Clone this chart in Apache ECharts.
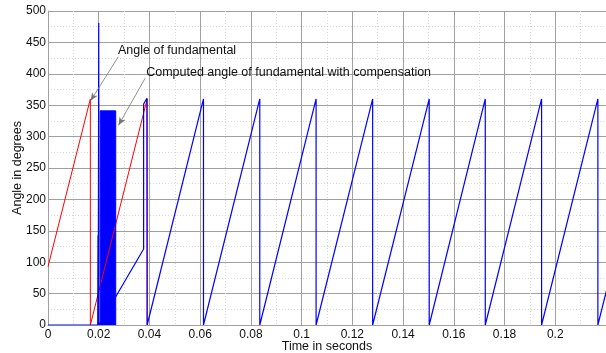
<!DOCTYPE html>
<html>
<head>
<meta charset="utf-8">
<script src="https://cdn.jsdelivr.net/npm/echarts@6/dist/echarts.min.js"></script>
<style>
  html, body { margin: 0; padding: 0; background: #fff; }
  #chart { width: 606px; height: 353px; }
</style>
</head>
<body>
<div id="chart"></div>
<script>
// Angle of the fundamental (red) and computed angle with compensation (blue)
const redTime = [0, 0.0167, 0.0167, 0.0172, 0.0391, 0.0391];
const redDeg = [93, 360, 0, 0, 360, 0];

const blueTime = [0, 0.0196, 0.0197, 0.0198, 0.0200, 0.0201, 0.0205, 0.0267, 0.0377, 0.0377, 0.0390, 0.0391,
  0.0613, 0.0613, 0.0835, 0.0835, 0.1057, 0.1057, 0.1280, 0.1280, 0.1503, 0.1503,
  0.1724, 0.1724, 0.1946, 0.1946, 0.2168, 0.2168, 0.2390];
const blueDeg = [0, 0, 143, 0, 481, 0, 0, 45, 121, 352, 361, 0,
  360, 0, 360, 0, 360, 0, 360, 0, 360, 0,
  360, 0, 360, 0, 360, 0, 360];

// fast oscillation burst right after start-up (fills solid)
const burstTime = [0.0206, 0.0206, 0.0267, 0.0267];
const burstDeg = [0, 341, 341, 0];

const yTicks = [0, 50, 100, 150, 200, 250, 300, 350, 400, 450, 500];
const xTicks = [0, 0.02, 0.04, 0.06, 0.08, 0.1, 0.12, 0.14, 0.16, 0.18, 0.2];

const labelRed = 'Angle of fundamental';
const labelBlue = 'Computed angle of fundamental with compensation';
const xName = 'Time in seconds';
const yName = 'Angle in degrees';

const zip = (a, b) => a.map((v, i) => [v, b[i]]);
const FONT = '"Liberation Sans", Arial, Helvetica, sans-serif';

const chart = echarts.init(document.getElementById('chart'), null, { renderer: 'canvas' });

const gridLine = { show: true, lineStyle: { color: '#a0a0a0', width: 1 } };
const minorLine = { show: true, lineStyle: { color: '#d8d8d8', width: 1, type: [1, 2] } };

chart.setOption({
  animation: false,
  backgroundColor: '#fff',
  grid: { left: 48, right: 0, top: 11, bottom: 28, containLabel: false, outerBoundsMode: 'none' },
  xAxis: {
    type: 'value', min: 0, max: 0.22, interval: 0.02,
    name: xName, nameLocation: 'middle', nameGap: 15, nameMoveOverlap: false,
    nameTextStyle: { color: '#111', fontSize: 12.5, fontFamily: FONT },
    axisLine: { show: true, lineStyle: { color: '#a0a0a0' } },
    axisTick: { show: false },
    axisLabel: {
      color: '#111', fontSize: 12, fontFamily: FONT, margin: 4, showMaxLabel: false,
      formatter: v => (xTicks.indexOf(+v.toFixed(2)) >= 0 ? String(+v.toFixed(2)) : '')
    },
    splitLine: gridLine,
    minorTick: { show: true, splitNumber: 2, length: 0, lineStyle: { opacity: 0 } },
    minorSplitLine: minorLine
  },
  yAxis: {
    type: 'value', min: 0, max: 500, interval: 50,
    name: yName, nameLocation: 'middle', nameGap: 24, nameMoveOverlap: false,
    nameTextStyle: { color: '#111', fontSize: 12.5, fontFamily: FONT },
    axisLine: { show: true, lineStyle: { color: '#a0a0a0' } },
    axisTick: { show: false },
    axisLabel: {
      color: '#111', fontSize: 12, fontFamily: FONT, margin: 2,
      formatter: v => (yTicks.indexOf(v) >= 0 ? String(v) : '')
    },
    splitLine: gridLine,
    minorTick: { show: true, splitNumber: 2, length: 0, lineStyle: { opacity: 0 } },
    minorSplitLine: minorLine
  },
  series: [
    {
      name: labelRed, type: 'line', data: zip(redTime, redDeg),
      showSymbol: false, clip: true, lineStyle: { color: '#ff0000', width: 1 },
      markLine: {
        silent: true, symbol: ['none', 'arrow'], symbolSize: [5, 8],
        label: { show: false },
        lineStyle: { color: '#777', width: 0.8, type: 'solid' },
        data: [
          [{ coord: [0.0277, 427] }, { coord: [0.0168, 357] }],
          [{ coord: [0.0383, 393] }, { coord: [0.0278, 318] }]
        ]
      }
    },
    {
      name: 'burst', type: 'line', data: zip(burstTime, burstDeg),
      showSymbol: false, clip: true,
      lineStyle: { color: '#0000ff', width: 1 },
      areaStyle: { color: '#0000ff', opacity: 1 }
    },
    {
      name: labelBlue, type: 'line', data: zip(blueTime, blueDeg),
      showSymbol: false, clip: true, lineStyle: { color: '#0000ff', width: 1.2 }
    }
  ]
});

// annotation texts anchored in data coordinates
const p1 = chart.convertToPixel({ gridIndex: 0 }, [0.0276, 437]);
const p2 = chart.convertToPixel({ gridIndex: 0 }, [0.0387, 401]);
chart.setOption({
  graphic: [
    { type: 'text', left: p1[0], top: p1[1] - 7, style: { text: labelRed, fill: '#111', font: '12.5px ' + FONT } },
    { type: 'text', left: p2[0], top: p2[1] - 7, style: { text: labelBlue, fill: '#111', font: '12.5px ' + FONT } }
  ]
});
</script>
</body>
</html>
